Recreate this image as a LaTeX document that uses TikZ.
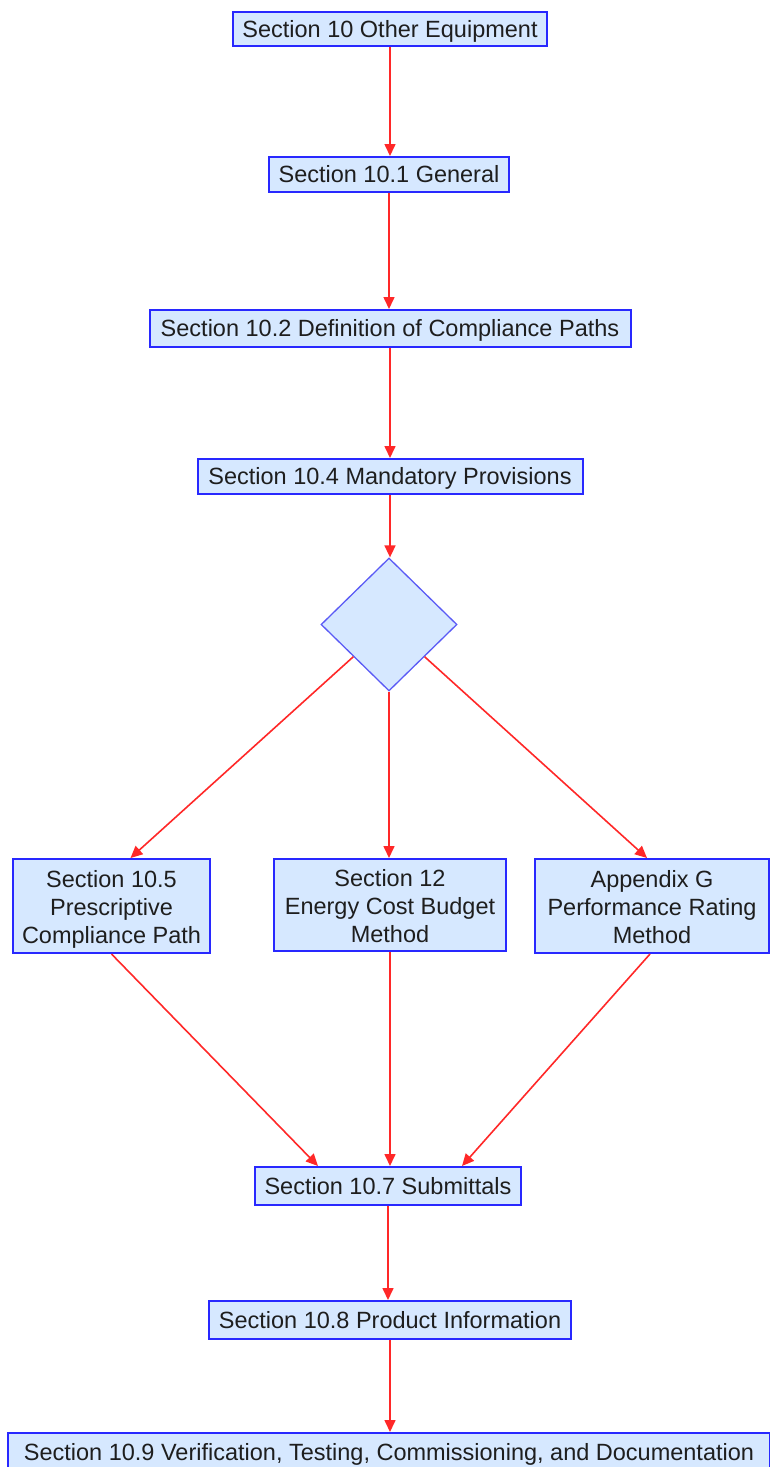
\documentclass[tikz,border=0pt]{standalone}
\usepackage{fontspec}
\setmainfont{Liberation Sans}
\usetikzlibrary{shapes.geometric,arrows.meta}
\definecolor{boxfill}{RGB}{214,232,255}
\definecolor{boxline}{RGB}{40,40,255}
\definecolor{dialine}{RGB}{90,90,245}
\definecolor{edgered}{RGB}{255,40,40}
\definecolor{txt}{RGB}{30,30,30}
\newcommand{\topstrut}{\rule{0pt}{24pt}}
\newcommand{\botstrut}{\rule[-6pt]{0pt}{6pt}}
\begin{document}
\begin{tikzpicture}[x=1pt,y=1pt,
  box/.style={draw=boxline,line width=2pt,fill=boxfill,text=txt,inner sep=0pt,align=center,
    font=\fontsize{23.5}{28}\selectfont},
  onebox/.style={box,text height=16.8pt,text depth=0pt},
  threebox/.style={box},
  dia/.style={diamond,draw=dialine,line width=1.3pt,fill=boxfill,inner sep=0pt,
    minimum width=136pt,minimum height=133pt},
  link/.style={draw=edgered,line width=1.6pt,-{Triangle[length=12pt,width=11pt]}}]
\useasboundingbox (0,0) rectangle (770,-1467);

\node[onebox,minimum width=314pt,minimum height=34pt] (n1) at (390,-29) {Section 10 Other Equipment};
\node[onebox,minimum width=240pt,minimum height=35pt] (n2) at (389,-174.5) {Section 10.1 General};
\node[onebox,minimum width=481pt,minimum height=37pt] (n3) at (390,-328.5) {Section 10.2 Definition of Compliance Paths};
\node[onebox,minimum width=385pt,minimum height=35pt] (n4) at (390,-476.5) {Section 10.4 Mandatory Provisions};
\node[dia] (d) at (389,-624.5) {};
\node[threebox,minimum width=197pt,minimum height=94pt] (p1) at (111.5,-906) {\topstrut Section 10.5\\Prescriptive\\Compliance Path\botstrut};
\node[threebox,minimum width=232pt,minimum height=92pt] (p2) at (390,-905) {\topstrut Section 12\\Energy Cost Budget\\Method\botstrut};
\node[threebox,minimum width=234pt,minimum height=94pt] (p3) at (652,-906) {\topstrut Appendix G\\Performance Rating\\Method\botstrut};
\node[onebox,minimum width=266pt,minimum height=38pt] (sub) at (388,-1186) {Section 10.7 Submittals};
\node[onebox,minimum width=362pt,minimum height=38pt] (prod) at (390,-1320) {Section 10.8 Product Information};
\node[onebox,minimum width=762pt,minimum height=38pt] (ver) at (389,-1452) {Section 10.9 Verification, Testing, Commissioning, and Documentation};

\draw[link] (n1.south) -- (n1.south |- n2.north);
\draw[link] (n2.south) -- (n2.south |- n3.north);
\draw[link] (n3.south) -- (n3.south |- n4.north);
\draw[link] (n4.south) -- (n4.south |- d.north);
\draw[link] (d) -- ([xshift=19pt]p1.north);
\draw[link] (d.south) -- (d.south |- p2.north);
\draw[link] (d) -- ([xshift=-5pt]p3.north);
\draw[link] (p1.south) -- ([xshift=-70pt]sub.north);
\draw[link] (p2.south) -- (p2.south |- sub.north);
\draw[link] ([xshift=-2pt]p3.south) -- ([xshift=74pt]sub.north);
\draw[link] (sub.south) -- (sub.south |- prod.north);
\draw[link] (prod.south) -- (prod.south |- ver.north);
\end{tikzpicture}
\end{document}
